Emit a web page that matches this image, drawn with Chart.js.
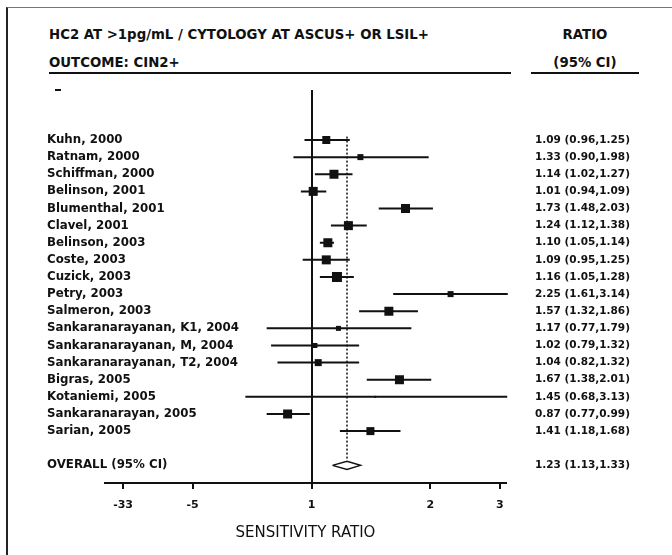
<!DOCTYPE html>
<html lang="en">
<head>
<meta charset="UTF-8">
<title>HC2 vs cytology - sensitivity ratio</title>
<script src="https://cdn.jsdelivr.net/npm/chart.js"></script>
<style>
  body { margin: 0; background: #fff; font-family: 'DejaVu Sans', sans-serif; color: #111; }
  .wrap { position: relative; width: 672px; height: 555px; overflow: hidden; }
  .frame { position: absolute; left: 6px; top: 7px; right: -10px; bottom: -10px;
           border-left: 2px solid #222; border-top: 1px solid #777; }
  .hd { position: absolute; font-weight: bold; font-size: 13.3px; line-height: 16px; white-space: nowrap; }
  .rule { position: absolute; height: 2px; background: #111; }
  canvas { position: absolute; left: 0; top: 0; }
</style>
</head>
<body>
<div class="wrap">
  <div class="frame"></div>
  <div class="hd" style="left:49px; top:27px">HC2 AT &gt;1pg/mL / CYTOLOGY AT ASCUS+ OR LSIL+</div>
  <div class="hd" style="left:49px; top:55px">OUTCOME: CIN2+</div>
  <div class="hd" style="left:535px; width:100px; text-align:center; top:27px">RATIO</div>
  <div class="hd" style="left:535px; width:100px; text-align:center; top:55px">(95% CI)</div>
  <div class="rule" style="left:49px; width:462px; top:72px"></div>
  <div class="rule" style="left:531px; width:108px; top:72px"></div>
  <div class="rule" style="left:55px; width:6px; top:89px"></div>
  <canvas id="forest" width="672" height="555"></canvas>
</div>
<script>
const studies = [
  'Kuhn, 2000', 'Ratnam, 2000', 'Schiffman, 2000', 'Belinson, 2001', 'Blumenthal, 2001',
  'Clavel, 2001', 'Belinson, 2003', 'Coste, 2003', 'Cuzick, 2003', 'Petry, 2003',
  'Salmeron, 2003', 'Sankaranarayanan, K1, 2004', 'Sankaranarayanan, M, 2004',
  'Sankaranarayanan, T2, 2004', 'Bigras, 2005', 'Kotaniemi, 2005', 'Sankaranarayan, 2005', 'Sarian, 2005'
];
const ratio = [1.09, 1.33, 1.14, 1.01, 1.73, 1.24, 1.10, 1.09, 1.16, 2.25, 1.57, 1.17, 1.02, 1.04, 1.67, 1.45, 0.87, 1.41];
const lower = [0.96, 0.90, 1.02, 0.94, 1.48, 1.12, 1.05, 0.95, 1.05, 1.61, 1.32, 0.77, 0.79, 0.82, 1.38, 0.68, 0.77, 1.18];
const upper = [1.25, 1.98, 1.27, 1.09, 2.03, 1.38, 1.14, 1.25, 1.28, 3.14, 1.86, 1.79, 1.32, 1.32, 2.01, 3.13, 0.99, 1.68];
const overallLabel = 'OVERALL (95% CI)';
const overallRatio = 1.23;
const overallLower = 1.13;
const overallUpper = 1.33;
const tickValues = [1 / 3, 0.5, 1, 2, 3];
const tickLabels = ['-33', '-5', '1', '2', '3'];

// box side in px (study weight)
const boxSize = [8, 6, 9, 9, 9, 9, 9, 9, 10, 6, 9, 5, 5, 7, 9, 2, 9, 8];

const fmt = (r, lo, hi) => r.toFixed(2) + ' (' + lo.toFixed(2) + ',' + hi.toFixed(2) + ')';
const overallRow = studies.length + 1;
const rowLabels = studies.concat(['', overallLabel]);
const ciText = ratio.map((r, i) => fmt(r, lower[i], upper[i])).concat(['', fmt(overallRatio, overallLower, overallUpper)]);

const ciSegments = [];
studies.forEach((s, i) => {
  ciSegments.push({x: lower[i], y: i}, {x: upper[i], y: i}, {x: null, y: null});
});
const dh = 0.24; // diamond half height in rows
const diamond = [
  {x: overallLower, y: overallRow}, {x: overallRatio, y: overallRow - dh},
  {x: overallUpper, y: overallRow}, {x: overallRatio, y: overallRow + dh},
  {x: overallLower, y: overallRow}
];

Chart.defaults.font.family = "'DejaVu Sans', sans-serif";
Chart.defaults.color = '#111';

const yMin = -2.92, yMax = 20.03;
const leftAxisWidth = 58;

new Chart(document.getElementById('forest'), {
  type: 'scatter',
  data: {
    datasets: [
      {
        data: ratio.map((r, i) => ({x: r, y: i})),
        pointStyle: 'rect',
        pointRadius: boxSize.map(s => s / Math.SQRT2),
        backgroundColor: '#111',
        borderWidth: 0,
        clip: false
      },
      {
        data: ciSegments,
        showLine: true,
        borderColor: '#111',
        borderWidth: 2,
        pointRadius: 0,
        clip: false
      },
      {
        data: diamond,
        showLine: true,
        borderColor: '#111',
        fill: false,
        borderWidth: 1.5,
        pointRadius: 0,
        tension: 0,
        clip: false
      },
      {
        data: [{x: overallRatio, y: -0.2}, {x: overallRatio, y: overallRow - dh - 0.05}],
        showLine: true,
        borderColor: '#111',
        borderWidth: 1.5,
        borderDash: [2, 2],
        pointRadius: 0,
        clip: false
      }
    ]
  },
  options: {
    responsive: false,
    animation: false,
    layout: {padding: {left: 47, top: 90, right: 0, bottom: 0}},
    plugins: {legend: {display: false}, tooltip: {enabled: false}},
    scales: {
      x: {
        type: 'logarithmic',
        min: 0.331,
        max: 3.108,
        afterBuildTicks: s => { s.ticks = tickValues.map(v => ({value: v})); },
        afterFit: s => { s.height = 72; },
        ticks: {
          autoSkip: false,
          maxRotation: 0,
          padding: 10,
          font: {size: 11, weight: 'bold'},
          callback: v => tickLabels[tickValues.findIndex(t => Math.abs(t - v) < 1e-6)]
        },
        grid: {
          color: c => (c.tick && c.tick.value === 1) ? '#111' : 'rgba(0,0,0,0)',
          lineWidth: 2,
          tickColor: '#111',
          tickLength: 6,
          tickWidth: 2
        },
        border: {display: true, color: '#111', width: 2},
        title: {
          display: true,
          text: 'SENSITIVITY RATIO',
          font: {size: 15},
          padding: {top: 0, bottom: 13}
        }
      },
      y: {
        type: 'linear',
        position: 'left',
        min: yMin,
        max: yMax,
        reverse: true,
        afterBuildTicks: s => { s.ticks = rowLabels.map((_, i) => ({value: i})); },
        afterFit: s => { s.width = leftAxisWidth; },
        // mirrored so the long names are not clipped to the axis box
        ticks: {autoSkip: false, mirror: true, padding: -leftAxisWidth, font: {size: 11.8, weight: 'bold'}, callback: v => rowLabels[v]},
        grid: {display: false, drawTicks: false},
        border: {display: false}
      },
      y2: {
        type: 'linear',
        position: 'right',
        min: yMin,
        max: yMax,
        reverse: true,
        afterBuildTicks: s => { s.ticks = ciText.map((_, i) => ({value: i})); },
        afterFit: s => { s.width = 166; },
        ticks: {autoSkip: false, crossAlign: 'near', padding: 29, font: {size: 10.5, weight: 'bold'}, callback: v => ciText[v]},
        grid: {display: false, drawTicks: false},
        border: {display: false}
      }
    }
  }
});
</script>
</body>
</html>
